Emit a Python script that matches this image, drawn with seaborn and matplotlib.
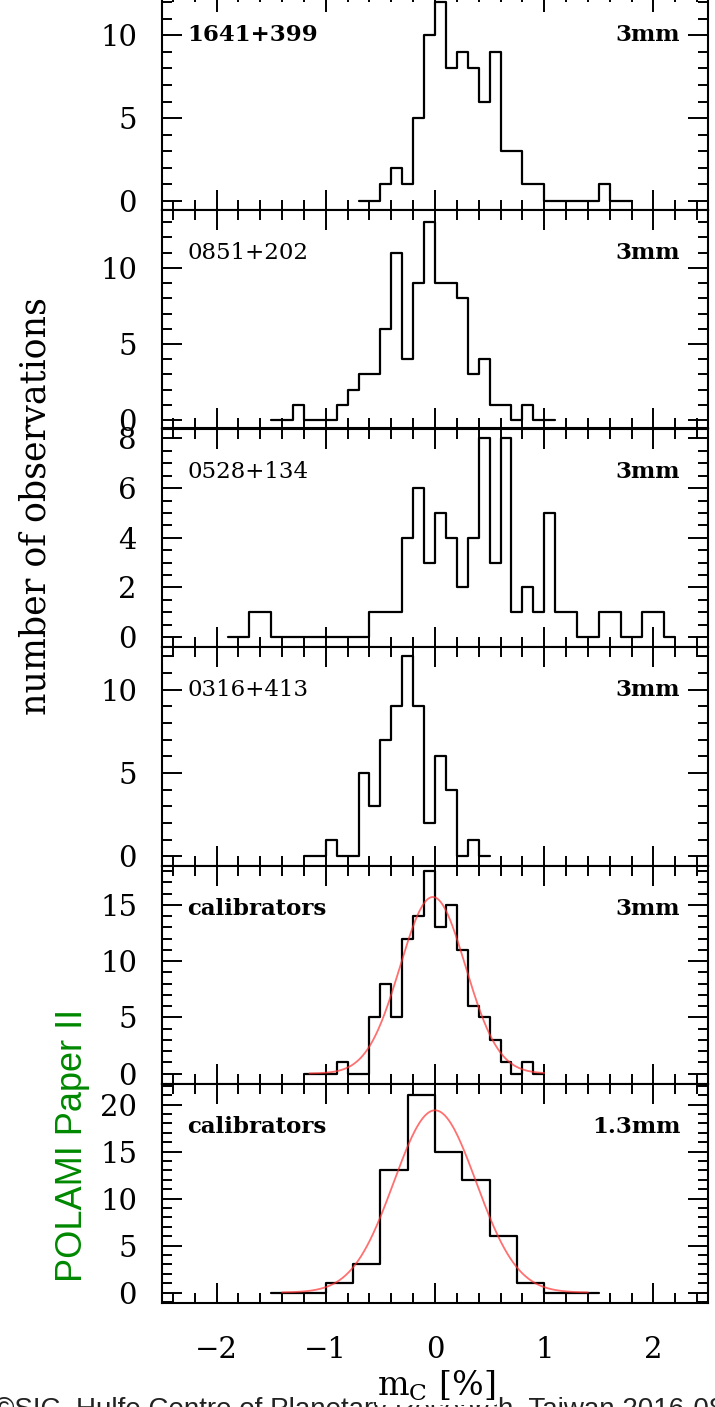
import numpy as np
import pandas as pd
import matplotlib
matplotlib.use("Agg")
import matplotlib.pyplot as plt
import seaborn as sns
from matplotlib.ticker import MultipleLocator

# ------------------------------------------------------------------ data
panel_names = ["1641+399", "0851+202", "0528+134", "0316+413", "calibrators", "calibrators"]
panel_bands = ["3mm", "3mm", "3mm", "3mm", "3mm", "1.3mm"]
bold_names = [True, False, False, False, True, True]

# left edge of first bin and bin width for each panel
first_edges = [-0.7, -1.5, -1.9, -1.2, -1.2, -1.5]
bin_widths = [0.1, 0.1, 0.1, 0.1, 0.1, 0.25]

counts_1641 = [0, 0, 1, 2, 1, 5, 10, 12, 8, 9, 8, 6, 9, 3, 3, 1, 1, 0, 0, 0, 0, 0, 1, 0, 0]
counts_0851 = [0, 0, 1, 0, 0, 0, 1, 2, 3, 3, 6, 11, 4, 9, 13, 9, 9, 8, 3, 4, 1, 1, 0, 1, 0, 0]
counts_0528 = [0, 0, 1, 1, 0, 0, 0, 0, 0, 0, 0, 0, 0, 1, 1, 1, 4, 6, 3, 5, 4, 2, 4, 8, 3, 8,
               1, 2, 1, 5, 1, 1, 0, 0, 1, 1, 0, 0, 1, 1, 0]
counts_0316 = [0, 0, 1, 0, 0, 5, 3, 7, 9, 12, 9, 2, 6, 4, 0, 1, 0]
counts_cal3 = [0, 0, 0, 1, 0, 0, 5, 8, 5, 12, 14, 18, 13, 15, 11, 6, 5, 3, 1, 0, 1, 0]
counts_cal13 = [0, 0, 1, 3, 13, 21, 15, 12, 6, 1, 0, 0]
all_counts = [counts_1641, counts_0851, counts_0528, counts_0316, counts_cal3, counts_cal13]

# Gaussian fits: amplitude, centre, sigma, x-start, x-end
fit_cal3 = (15.7, -0.02, 0.30, -1.15, 1.0)
fit_cal13 = (19.4, 0.0, 0.377, -1.4, 1.4)
fits = [None, None, None, None, fit_cal3, fit_cal13]

y_limits = [(-0.55, 12.65), (-0.55, 13.8), (-0.4, 8.4), (-0.55, 12.55), (-0.93, 18.5), (-1.06, 22.2)]
y_major = [5, 5, 2, 5, 5, 5]
y_minor = [1, 1, 0.5, 1, 1, 1]
x_limits = (-2.5, 2.5)
x_major = 1
x_minor = 0.2

# ------------------------------------------------------------------ style
sns.set_theme(style="ticks")
plt.rcParams["font.family"] = ["DejaVu Serif"]
plt.rcParams["mathtext.fontset"] = "dejavuserif"
plt.rcParams["axes.linewidth"] = 1.5

W, H = 715, 1407
fig = plt.figure(figsize=(W / 100, H / 100), dpi=100)
fig.patch.set_facecolor("white")

left = 162 / W
width = 546 / W
panel_h = 218.5
bottom_px = 1302.5

for i in range(6):
    top_px = bottom_px - (6 - i) * panel_h
    ax = fig.add_axes([left, 1 - (top_px + panel_h) / H, width, panel_h / H])
    ax.set_facecolor("white")

    counts = np.array(all_counts[i], dtype=float)
    edges = first_edges[i] + bin_widths[i] * np.arange(len(counts) + 1)
    centers = 0.5 * (edges[:-1] + edges[1:])
    df = pd.DataFrame({"m": centers, "n": counts})
    sns.histplot(data=df, x="m", weights="n", bins=list(edges), element="step", fill=False,
                 color="black", linewidth=1.6, ax=ax)

    if fits[i] is not None:
        amp, mu, sig, x0, x1 = fits[i]
        gx = np.linspace(x0, x1, 300)
        gy = amp * np.exp(-0.5 * ((gx - mu) / sig) ** 2)
        sns.lineplot(x=gx, y=gy, ax=ax, color="#ff3333", linewidth=1.3, alpha=0.7)

    ax.set_xlim(*x_limits)
    ax.set_ylim(*y_limits[i])
    ax.set_xlabel("")
    ax.set_ylabel("")
    ax.xaxis.set_major_locator(MultipleLocator(x_major))
    ax.xaxis.set_minor_locator(MultipleLocator(x_minor))
    ax.yaxis.set_major_locator(MultipleLocator(y_major[i]))
    ax.yaxis.set_minor_locator(MultipleLocator(y_minor[i]))
    ax.tick_params(which="both", direction="in", top=True, right=True,
                   width=1.4, color="black")
    ax.tick_params(which="major", length=14.5)
    ax.tick_params(which="minor", length=7)
    ax.tick_params(axis="y", labelsize=21, pad=18, labelcolor="black")
    ax.tick_params(axis="x", labelsize=21, pad=24, labelcolor="black",
                   labelbottom=(i == 5))
    for sp in ax.spines.values():
        sp.set_visible(True)
        sp.set_color("black")
        sp.set_linewidth(1.5)
    if i == 5:
        ax.set_xticks([-2, -1, 0, 1, 2])
        ax.set_xticklabels(["\u22122", "\u22121", "0", "1", "2"])

    ax.text(0.046, 0.803, panel_names[i], transform=ax.transAxes, ha="left", va="center",
            fontsize=16.5, fontweight="bold" if bold_names[i] else "normal", color="black")
    ax.text(0.949, 0.803, panel_bands[i], transform=ax.transAxes, ha="right", va="center",
            fontsize=16.5, fontweight="bold", color="black")

# axis titles
fig.text(36 / W, 1 - 506 / H, "number of observations", rotation=90, ha="center",
         va="center", fontsize=25, color="black")
fig.text(436 / W, 1 - 1386 / H, r"$\mathrm{m_C}$ [%]", ha="center", va="center",
         fontsize=24, color="black", zorder=5,
         bbox=dict(facecolor="white", edgecolor="none", pad=1))
fig.text(72 / W, 1 - 1145 / H, "POLAMI Paper II", rotation=90, ha="center", va="center",
         fontsize=26, color="#008800", family=["Liberation Sans", "DejaVu Sans"])
fig.text(-6 / W, 1 - 1397 / H, "\u00a9SIC, Hulfe Centre of Planetary Research, Taiwan 2016-08-08",
         ha="left", va="top", fontsize=20, color="#222222", zorder=1,
         family=["Liberation Sans", "DejaVu Sans"])

fig.savefig("out.png", dpi=100)
